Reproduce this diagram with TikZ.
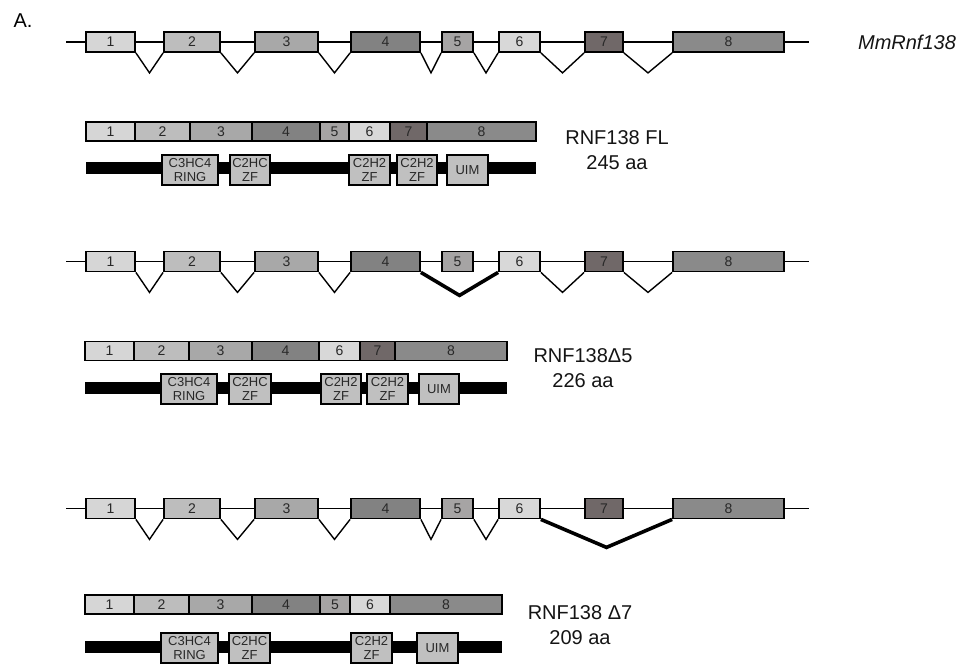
\documentclass[tikz,border=0pt]{standalone}
\usepackage{fontspec}
\setmainfont{Liberation Sans}
\usetikzlibrary{calc}
\definecolor{ex1}{RGB}{214,214,214}
\definecolor{ex2}{RGB}{189,189,189}
\definecolor{ex3}{RGB}{168,168,168}
\definecolor{ex4}{RGB}{130,130,130}
\definecolor{ex5}{RGB}{166,164,164}
\definecolor{ex6}{RGB}{216,216,216}
\definecolor{ex7}{RGB}{112,104,104}
\definecolor{ex8}{RGB}{138,138,138}
\definecolor{domgrey}{RGB}{192,192,192}
\definecolor{numgrey}{RGB}{40,40,40}
\definecolor{lblgrey}{RGB}{20,20,20}

\begin{document}
\begin{tikzpicture}[
  x=1pt, y=-1pt,
  exon/.style={rectangle, draw=black, line width=1.8pt, minimum height=20pt, inner sep=0pt,
               font=\fontsize{14}{14}\selectfont, text=numgrey},
  seg/.style={exon, minimum height=19pt},
  intron/.style={draw=black, line width=1.4pt},
  skipped/.style={draw=black, line width=3.6pt, line join=miter},
  dombox/.style={rectangle, draw=black, line width=1.8pt, fill=domgrey, minimum height=30pt,
                 inner sep=0pt, align=center, font=\fontsize{13}{14.5}\selectfont, text=numgrey},
  chainbar/.style={rectangle, fill=black, minimum height=12pt, inner sep=0pt},
  lbl/.style={font=\fontsize{20}{25}\selectfont, align=center, text=lblgrey}
]
\useasboundingbox (0,0) rectangle (961,669);

\node[lbl, anchor=west, text=black] (panel) at (10,21) {A.};

% gene models, same exon layout in each row
\foreach \r/\y in {a/42, b/261.5, c/508.5} {
  \coordinate (g\r s) at (66,\y);
  \coordinate (g\r e) at (809,\y);
  \draw[line width=1.8pt] (g\r s) -- (g\r e);
  \foreach \n/\xl/\xr in {1/86/135, 2/164/220, 3/255/318, 4/351/420,
                          5/442/473, 6/499/540, 7/585/623, 8/673/784}
    \node[exon, fill=ex\n, minimum width={(\xr-\xl)*1pt}] (g\r\n) at ({(\xl+\xr)/2},\y) {\n};
}
\node[lbl, font=\fontsize{20}{25}\selectfont\itshape] (gene) at (907,42) {MmRnf138};

% splicing
\foreach \i/\j in {1/2, 2/3, 3/4, 4/5, 5/6, 6/7, 7/8}
  \draw[intron] (ga\i.south east) -- ($(ga\i.south east)!0.5!(ga\j.south west)+(0,20)$) -- (ga\j.south west);
\foreach \i/\j in {1/2, 2/3, 3/4, 6/7, 7/8}
  \draw[intron] (gb\i.south east) -- ($(gb\i.south east)!0.5!(gb\j.south west)+(0,20)$) -- (gb\j.south west);
\draw[skipped] (gb4.south east) -- ($(gb4.south east)!0.5!(gb6.south west)+(0,23)$) -- (gb6.south west);
\foreach \i/\j in {1/2, 2/3, 3/4, 4/5, 5/6}
  \draw[intron] (gc\i.south east) -- ($(gc\i.south east)!0.5!(gc\j.south west)+(0,20)$) -- (gc\j.south west);
\draw[skipped] (gc6.south east) -- ($(gc6.south east)!0.5!(gc8.south west)+(0,28)$) -- (gc8.south west);

% transcripts
\foreach \n/\xl/\xr in {1/86/135, 2/135/190, 3/190/252, 4/252/320, 5/320/349, 6/349/390, 7/390/427, 8/427/536}
  \node[seg, fill=ex\n, minimum width={(\xr-\xl)*1pt}] (ta\n) at ({(\xl+\xr)/2},131.5) {\n};
\foreach \n/\xl/\xr in {1/85/134, 2/134/189, 3/189/252, 4/252/319, 6/319/360, 7/360/395, 8/395/507}
  \node[seg, fill=ex\n, minimum width={(\xr-\xl)*1pt}] (tb\n) at ({(\xl+\xr)/2},351) {\n};
\foreach \n/\xl/\xr in {1/85/134, 2/134/189, 3/189/252, 4/252/320, 5/320/350, 6/350/390, 8/390/502}
  \node[seg, fill=ex\n, minimum width={(\xr-\xl)*1pt}] (tc\n) at ({(\xl+\xr)/2},604.5) {\n};

% proteins
\node[chainbar, minimum width=450pt] (pa) at (311,168) {};
\node[dombox, minimum width=56pt] (paring) at (190,170) {C3HC4\\RING};
\node[dombox, minimum width=40pt] (pazfa) at (250,170) {C2HC\\ZF};
\node[dombox, minimum width=41pt] (pazfb) at (369.5,170) {C2H2\\ZF};
\node[dombox, minimum width=40pt] (pazfc) at (417,170) {C2H2\\ZF};
\node[dombox, minimum width=41pt] (pauim) at (467.5,170) {UIM};

\node[chainbar, minimum width=422pt] (pb) at (296,387.5) {};
\node[dombox, minimum width=56pt] (pbring) at (189,389) {C3HC4\\RING};
\node[dombox, minimum width=42pt] (pbzfa) at (250,389) {C2HC\\ZF};
\node[dombox, minimum width=40pt] (pbzfb) at (341,389) {C2H2\\ZF};
\node[dombox, minimum width=41pt] (pbzfc) at (387.5,389) {C2H2\\ZF};
\node[dombox, minimum width=40pt] (pbuim) at (439,389) {UIM};

\node[chainbar, minimum width=417pt] (pc) at (293.5,646.5) {};
\node[dombox, minimum width=57pt] (pcring) at (189.5,648) {C3HC4\\RING};
\node[dombox, minimum width=41pt] (pczfa) at (249.5,648) {C2HC\\ZF};
\node[dombox, minimum width=41pt] (pczfb) at (371.5,648) {C2H2\\ZF};
\node[dombox, minimum width=41pt] (pcuim) at (437.5,648) {UIM};

% isoform names
\node[lbl] (fl) at (617,150) {RNF138 FL\\245 aa};
\node[lbl] (d5) at (583,368.5) {RNF138Δ5\\226 aa};
\node[lbl] (d7) at (580,625.5) {RNF138 Δ7\\209 aa};
\end{tikzpicture}
\end{document}
